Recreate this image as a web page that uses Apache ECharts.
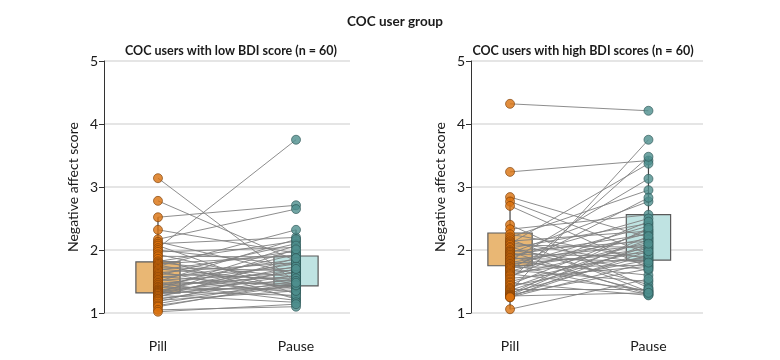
<!DOCTYPE html>
<html>
<head>
<meta charset="utf-8">
<script src="https://cdn.jsdelivr.net/npm/echarts@6/dist/echarts.min.js"></script>
<style>html,body{margin:0;padding:0;background:#fff}#chart{width:780px;height:360px}</style>
</head>
<body>
<div id="chart"></div>
<script>
const categories = ['Pill', 'Pause'];
const yTicks = [1, 2, 3, 4, 5];

// Low BDI panel (paired by index)
const lowPill = [3.14, 2.78, 2.52, 2.32, 2.17, 2.13, 2.1, 2.07, 2.03, 2.0, 1.97, 1.93, 1.9, 1.86, 1.82,
  1.8, 1.78, 1.76, 1.74, 1.72, 1.7, 1.68, 1.66, 1.64, 1.62, 1.6, 1.58, 1.57, 1.55, 1.53,
  1.52, 1.5, 1.48, 1.47, 1.45, 1.44, 1.42, 1.41, 1.4, 1.38, 1.37, 1.36, 1.35, 1.34, 1.33,
  1.32, 1.31, 1.3, 1.28, 1.27, 1.25, 1.23, 1.22, 1.2, 1.18, 1.15, 1.12, 1.1, 1.05, 1.02];
const lowPause = [1.49, 1.83, 2.71, 1.95, 2.65, 1.62, 2.2, 1.3, 3.75, 1.76, 2.04, 1.45, 1.89, 1.22, 2.14,
  1.57, 1.91, 1.38, 2.32, 1.67, 1.5, 1.98, 1.25, 1.8, 1.54, 2.1, 1.42, 1.72, 1.85, 1.33,
  1.63, 2.17, 1.47, 1.2, 1.78, 1.58, 1.93, 1.36, 1.69, 2.07, 1.52, 1.4, 1.81, 1.28, 1.65,
  2.01, 1.46, 1.74, 1.17, 1.6, 1.87, 1.43, 1.55, 1.35, 1.7, 1.51, 1.44, 1.48, 1.1, 1.14];
const lowBoxQ1 = [1.32, 1.43];
const lowBoxQ3 = [1.81, 1.905];

// High BDI panel (paired by index)
const highPill = [4.32, 3.24, 2.84, 2.77, 2.7, 2.4, 2.33, 2.25, 2.2, 2.17, 2.14, 2.12, 2.1, 2.08, 2.05,
  2.03, 2.0, 1.98, 1.97, 1.95, 1.93, 1.92, 1.9, 1.88, 1.87, 1.85, 1.83, 1.82, 1.8, 1.78,
  1.77, 1.75, 1.73, 1.72, 1.7, 1.68, 1.66, 1.64, 1.62, 1.6, 1.58, 1.55, 1.53, 1.5, 1.48,
  1.45, 1.43, 1.4, 1.38, 1.36, 1.34, 1.32, 1.3, 1.29, 1.28, 1.27, 1.26, 1.25, 1.25, 1.06];
const highPause = [4.21, 3.42, 2.2, 1.94, 1.72, 1.4, 2.56, 1.86, 2.95, 1.34, 2.3, 1.78, 3.37, 2.04, 1.45,
  2.42, 1.68, 2.14, 1.3, 2.77, 1.9, 2.25, 1.33, 2.5, 1.82, 2.08, 3.13, 1.6, 2.18, 1.96,
  1.29, 2.38, 2.02, 1.76, 2.83, 1.5, 2.27, 1.88, 1.36, 2.12, 2.45, 1.74, 3.48, 2.0, 1.28,
  2.32, 1.84, 2.16, 1.38, 2.06, 3.75, 1.92, 2.35, 1.7, 2.22, 1.32, 1.98, 2.1, 1.8, 1.54];
const highBoxQ1 = [1.75, 1.84];
const highBoxQ3 = [2.27, 2.56];

const FONT = 'Lato';
const pillColor = '#D9700C', pillBorder = '#7a3e06';
const pauseColor = '#4E8F8D', pauseBorder = '#2c5453';
const boxFill = ['#E9B774', '#BFE3E2'];

function whisker(arr, q1, q3) {
  const iqr = q3 - q1;
  const hi = Math.max(...arr.filter(v => v <= q3 + 1.5 * iqr));
  const lo = Math.min(...arr.filter(v => v >= q1 - 1.5 * iqr));
  return [lo, hi];
}

function panelSeries(idx, pill, pause, q1, q3) {
  const ax = {xAxisIndex: idx, yAxisIndex: idx};
  const series = [];
  [pill, pause].forEach((arr, i) => {
    const w = whisker(arr, q1[i], q3[i]);
    series.push(Object.assign({
      type: 'line', z: 1, symbol: 'none', silent: true,
      lineStyle: {color: '#444', width: 1.2},
      data: [[i, w[0]], [i, w[1]]]
    }, ax));
  });
  series.push(Object.assign({
    type: 'custom', z: 2,
    data: categories.map((c, i) => [i, q1[i], q3[i]]),
    renderItem: function (params, api) {
      const i = api.value(0);
      const top = api.coord([i, api.value(2)]);
      const bot = api.coord([i, api.value(1)]);
      const w = api.size([0.32, 0])[0];
      return {
        type: 'rect',
        shape: {x: top[0] - w / 2, y: top[1], width: w, height: bot[1] - top[1]},
        style: {fill: boxFill[i], stroke: '#5a5a5a', lineWidth: 1.2}
      };
    }
  }, ax));
  series.push(Object.assign({
    type: 'lines', coordinateSystem: 'cartesian2d', z: 3, silent: true,
    lineStyle: {color: '#808080', width: 0.9, opacity: 1},
    data: pill.map((v, i) => ({coords: [[0, v], [1, pause[i]]]}))
  }, ax));
  series.push(Object.assign({
    type: 'scatter', z: 4, symbolSize: 9,
    itemStyle: {color: pillColor, borderColor: pillBorder, borderWidth: 0.8},
    data: pill.map(v => [0, v])
  }, ax));
  series.push(Object.assign({
    type: 'scatter', z: 4, symbolSize: 9,
    itemStyle: {color: pauseColor, borderColor: pauseBorder, borderWidth: 0.8},
    data: pause.map(v => [1, v])
  }, ax));
  return series;
}

function yAxis(idx) {
  return {
    gridIndex: idx, type: 'value', min: yTicks[0], max: yTicks[yTicks.length - 1], interval: 1,
    name: 'Negative affect score', nameLocation: 'middle', nameGap: 24,
    nameTextStyle: {fontFamily: FONT, fontSize: 14, color: '#1a1a1a'},
    axisLine: {show: true, onZero: false, lineStyle: {color: '#333', width: 1}},
    axisTick: {show: true, length: 5, lineStyle: {color: '#333'}},
    axisLabel: {fontFamily: FONT, fontSize: 14, color: '#1a1a1a', margin: 6},
    splitLine: {show: true, lineStyle: {color: '#dcdcdc', width: 1.5}}
  };
}
function xAxis(idx, min, max) {
  return {
    gridIndex: idx, type: 'value', min: min, max: max,
    axisLine: {show: false, onZero: false}, axisTick: {show: false}, splitLine: {show: false},
    axisLabel: {
      customValues: [0, 1], fontFamily: FONT, fontSize: 14, color: '#1a1a1a', margin: 26,
      formatter: v => categories[Math.round(v)]
    }
  };
}

const chart = echarts.init(document.getElementById('chart'), null, {renderer: 'canvas'});
chart.setOption({
  animation: false,
  backgroundColor: '#fff',
  title: [
    {text: 'COC user group', left: 390, top: 10, textAlign: 'center',
      textStyle: {fontFamily: FONT, fontSize: 13.5, fontWeight: 'bold', color: '#1a1a1a'}},
    {text: 'COC users with low BDI score (n = 60)', left: 226, top: 39, textAlign: 'center',
      textStyle: {fontFamily: FONT, fontSize: 12.5, fontWeight: 'bold', color: '#1a1a1a'}},
    {text: 'COC users with high BDI scores (n = 60)', left: 578, top: 39, textAlign: 'center',
      textStyle: {fontFamily: FONT, fontSize: 12.5, fontWeight: 'bold', color: '#1a1a1a'}}
  ],
  grid: [
    {left: 104, top: 61, width: 246, height: 252},
    {left: 471, top: 61, width: 232, height: 252}
  ],
  xAxis: [xAxis(0, -0.391, 1.391), xAxis(1, -0.282, 1.394)],
  yAxis: [yAxis(0), yAxis(1)],
  series: [].concat(
    panelSeries(0, lowPill, lowPause, lowBoxQ1, lowBoxQ3),
    panelSeries(1, highPill, highPause, highBoxQ1, highBoxQ3)
  )
});
</script>
</body>
</html>
